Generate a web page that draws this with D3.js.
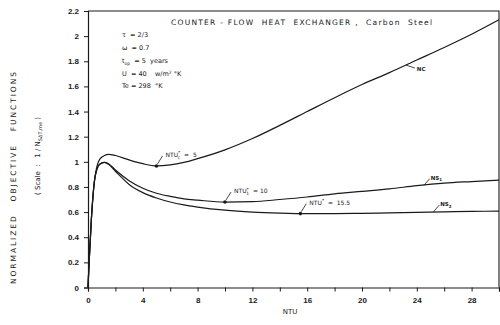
<!DOCTYPE html>
<html>
<head>
<meta charset="utf-8">
<script src="https://cdn.jsdelivr.net/npm/d3@7"></script>
<style>
  body { margin: 0; background: #fff; }
  svg { font-family: "DejaVu Sans", sans-serif; }
  svg text { white-space: pre; }
</style>
</head>
<body>
<div id="T"></div>
<script>
// NTU values (x) shared by the three curves
const ntu = [0, 0.08, 0.25, 0.5, 0.85, 1.2, 1.5, 2, 3, 4, 5, 6, 7, 8, 10, 12, 14, 16, 18, 20, 22, 24, 26, 28, 30];
const nc  = [0, 0.2, 0.55, 0.87, 1.02, 1.05, 1.06, 1.05, 1.015, 0.985, 0.967, 0.975, 0.995, 1.025, 1.095, 1.185, 1.29, 1.40, 1.51, 1.615, 1.71, 1.81, 1.91, 2.015, 2.13];
const ns1 = [0, 0.2, 0.55, 0.87, 0.98, 0.995, 0.985, 0.935, 0.85, 0.79, 0.75, 0.725, 0.705, 0.695, 0.68, 0.683, 0.70, 0.72, 0.745, 0.765, 0.785, 0.81, 0.83, 0.843, 0.855];
const ns2 = [0, 0.2, 0.55, 0.87, 0.98, 0.995, 0.98, 0.925, 0.82, 0.755, 0.712, 0.68, 0.657, 0.64, 0.615, 0.60, 0.592, 0.588, 0.588, 0.59, 0.594, 0.598, 0.602, 0.605, 0.608];

const xTicks = d3.range(0, 31, 2);
const yTicks = d3.range(0, 2.21, 0.2);

// optimum points marked on each curve
const optima = [
  { x: 5, y: 0.967, label: "NTU", sup: "*", sub: "c", rest: "  =  5" },
  { x: 10, y: 0.68, label: "NTU", sup: "*", sub: "1", rest: "  = 10" },
  { x: 15.5, y: 0.588, label: "NTU", sup: "*", sub: "", rest: "  =  15.5" }
];
// curve name labels
const curveNames = [
  { name: "NC", sub: "", x: 23.2, y: 1.77 },
  { name: "NS", sub: "1", x: 24.5, y: 0.81 },
  { name: "NS", sub: "2", x: 25.2, y: 0.60 }
];

const width = 500, height = 325;
const svg = d3.select('#T').append('svg')
  .attr("width", width)
  .attr("height", height);

const x = d3.scaleLinear().domain([0, 30]).range([88, 499]);
const y = d3.scaleLinear().domain([0, 2.2]).range([287.5, 11]);
const ink = "#1a1a1a";

// frame (top and right)
svg.append("path")
  .attr("d", `M${x(0)},${y(2.2)}H${x(30)}V${y(0)}`)
  .attr("fill", "none").attr("stroke", ink).attr("stroke-width", 1.1);

const xAxis = svg.append("g")
  .attr("transform", `translate(0,${y(0)})`)
  .call(d3.axisBottom(x).tickValues(xTicks).tickSize(4).tickPadding(6)
    .tickFormat(d => d % 4 === 0 && d < 30 ? d : ""));
const yAxis = svg.append("g")
  .attr("transform", `translate(${x(0)},0)`)
  .call(d3.axisLeft(y).tickValues(yTicks).tickSize(4).tickPadding(5)
    .tickFormat(d => String(+d.toFixed(1))));

[xAxis, yAxis].forEach(g => {
  g.select(".domain").attr("stroke", ink).attr("stroke-width", 1.2);
  g.selectAll(".tick line").attr("stroke", ink).attr("stroke-width", 1);
  g.selectAll("text").attr("fill", ink).style("font-size", "8px").style("font-weight", "bold");
});

const line = d3.line().curve(d3.curveMonotoneX)
  .x(d => x(d[0])).y(d => y(d[1]));
[nc, ns1, ns2].forEach(vals => {
  svg.append("path")
    .datum(ntu.map((n, i) => [n, vals[i]]))
    .attr("d", line)
    .attr("fill", "none").attr("stroke", ink).attr("stroke-width", 1.2);
});

// optimum markers with labels
optima.forEach(o => {
  const px = x(o.x), py = y(o.y);
  svg.append("circle").attr("cx", px).attr("cy", py).attr("r", 1.8).attr("fill", ink);
  svg.append("line").attr("x1", px + 1).attr("y1", py - 2).attr("x2", px + 6).attr("y2", py - 10)
    .attr("stroke", ink).attr("stroke-width", 0.8);
  const t = svg.append("text").attr("x", px + 9).attr("y", py - 9)
    .attr("fill", ink).style("font-size", "6px");
  t.append("tspan").text(o.label);
  if (o.sup) t.append("tspan").attr("dy", -2.5).style("font-size", "4.5px").text(o.sup);
  if (o.sub) t.append("tspan").attr("dx", -2.5).attr("dy", 4.5).style("font-size", "4.5px").text(o.sub);
  t.append("tspan").attr("dy", o.sub ? -2 : 2.5).text(o.rest);
});

// curve names with leader ticks
curveNames.forEach((c, i) => {
  const px = x(c.x), py = y(c.y);
  const up = i > 0;
  svg.append("line").attr("x1", px).attr("y1", py)
    .attr("x2", px + (up ? 6 : 9)).attr("y2", py + (up ? -7 : 3))
    .attr("stroke", ink).attr("stroke-width", 0.8);
  const t = svg.append("text").attr("x", px + (up ? 7 : 11)).attr("y", py + (up ? -6 : 6))
    .attr("fill", ink).style("font-size", "5.5px").style("font-weight", "bold");
  t.append("tspan").text(c.name);
  if (c.sub) t.append("tspan").attr("dy", 1.5).style("font-size", "4px").text(c.sub);
});

// title
svg.append("text").attr("x", 171).attr("y", 25)
  .attr("textLength", 261).attr("lengthAdjust", "spacing")
  .attr("fill", ink).style("font-size", "7.5px")
  .text("COUNTER - FLOW  HEAT  EXCHANGER ,  Carbon  Steel");

// parameter block
const params = svg.append("g").attr("fill", ink).style("font-size", "6.5px");
params.append("text").attr("x", 122).attr("y", 37).text("τ  = 2/3");
params.append("text").attr("x", 122).attr("y", 50).text("ω  = 0.7");
const tOp = params.append("text").attr("x", 122).attr("y", 63);
tOp.append("tspan").text("t");
tOp.append("tspan").attr("dy", 1.5).style("font-size", "4.5px").text("op");
tOp.append("tspan").attr("dy", -1.5).text("  = 5  years");
const ut = params.append("text").attr("x", 122).attr("y", 76);
ut.append("tspan").text("U  = 40    w/m");
ut.append("tspan").attr("dy", -2.5).style("font-size", "4.5px").text("2");
ut.append("tspan").attr("dy", 2.5).text(" °K");
params.append("text").attr("x", 122).attr("y", 88).text("Te = 298  °K");

// axis titles
svg.append("text").attr("x", 290).attr("y", 314).attr("text-anchor", "middle")
  .attr("fill", ink).style("font-size", "7px").text("NTU");
svg.append("text")
  .attr("transform", "translate(16,178) rotate(-90)")
  .attr("text-anchor", "middle").attr("textLength", 212).attr("lengthAdjust", "spacing")
  .attr("fill", ink).style("font-size", "7.5px")
  .text("NORMALIZED   OBJECTIVE   FUNCTIONS");
const sc = svg.append("text")
  .attr("transform", "translate(40,156) rotate(-90)")
  .attr("text-anchor", "middle")
  .attr("fill", ink).style("font-size", "7px");
sc.append("tspan").text("( Scale  :   1 / N");
sc.append("tspan").attr("dy", 2).style("font-size", "5px").text("SΔT,me");
sc.append("tspan").attr("dy", -2).text(" )");
</script>
</body>
</html>
